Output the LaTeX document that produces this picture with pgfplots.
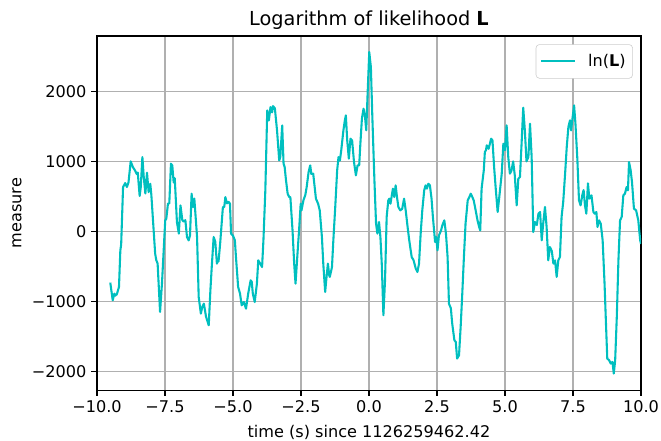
\documentclass[border=0pt]{standalone}
\usepackage{fontspec}
\setmainfont{DejaVu Sans}
\usepackage{pgfplots}
\pgfplotsset{compat=1.18}

\definecolor{lcyan}{rgb}{0,0.75,0.75}
\definecolor{gridgray}{HTML}{B0B0B0}
\definecolor{legframe}{HTML}{CCCCCC}

\begin{document}
\begin{tikzpicture}
\begin{axis}[
  scale only axis,
  width=391.7pt, height=254.9pt,
  xmin=-10, xmax=10,
  ymin=-2270, ymax=2790,
  xtick={-10,-7.5,-5,-2.5,0,2.5,5,7.5,10},
  xticklabels={−10.0,−7.5,−5.0,−2.5,0.0,2.5,5.0,7.5,10.0},
  ytick={-2000,-1000,0,1000,2000},
  yticklabels={−2000,−1000,0,1000,2000},
  tick pos=left,
  tick align=outside,
  major tick length=4pt,
  tick style={black, line width=0.9pt},
  axis line style={line width=0.9pt},
  grid=major,
  major grid style={gridgray, line width=0.9pt},
  ticklabel style={font=\fontsize{11.6}{13.9}\selectfont},
  label style={font=\fontsize{11.6}{13.9}\selectfont},
  title={Logarithm of likelihood \textbf{L}},
  title style={font=\fontsize{13.9}{16.7}\selectfont, at={(axis description cs:0.5,1.0216)}, anchor=center},
  xlabel={time (s) since 1126259462.42},
  xlabel style={at={(axis description cs:0.5,-0.1186)}, anchor=center},
  ylabel={measure},
  ylabel style={at={(axis description cs:-0.147,0.5)}, anchor=center},
  legend style={at={(axis description cs:0.985,0.977)}, anchor=north east,
    draw=legframe, rounded corners=2.5pt, font=\fontsize{11.6}{13.9}\selectfont,
    inner xsep=3pt, inner ysep=5pt},
  legend cell align=left,
  legend image code/.code={\draw[#1] (0pt,0pt) -- (24.5pt,0pt); \path (31pt,0pt);},
]
\addplot[lcyan, line width=1.5pt, line join=round] coordinates {
(-9.51,-733) (-9.42,-986) (-9.36,-890) (-9.33,-920) (-9.27,-900) (-9.19,-795)
(-9.14,-271) (-9.11,-190) (-9.04,633) (-8.96,690) (-8.90,633) (-8.84,700)
(-8.76,1000) (-8.68,919) (-8.60,870) (-8.54,820) (-8.50,840) (-8.43,505)
(-8.39,630) (-8.33,1061) (-8.28,780) (-8.22,540) (-8.16,838) (-8.10,560)
(-8.04,680) (-8.00,520) (-7.86,-319) (-7.82,-410) (-7.77,-460) (-7.68,-1152)
(-7.61,-748) (-7.49,157) (-7.45,180) (-7.39,395) (-7.34,400) (-7.28,967)
(-7.23,940) (-7.18,700) (-7.14,760) (-7.06,133) (-6.99,-33) (-6.93,371)
(-6.86,157) (-6.81,140) (-6.75,160) (-6.69,-81) (-6.63,-130) (-6.58,-60)
(-6.52,538) (-6.47,348) (-6.42,467) (-6.32,-80) (-6.26,-938) (-6.18,-1176)
(-6.13,-1081) (-6.07,-1033) (-5.99,-1220) (-5.89,-1343) (-5.83,-843) (-5.78,-510)
(-5.71,-81) (-5.65,-150) (-5.59,-462) (-5.55,-410) (-5.53,-430) (-5.47,-170)
(-5.37,348) (-5.32,348) (-5.28,490) (-5.22,400) (-5.16,420) (-5.11,395)
(-5.07,-33) (-5.00,-60) (-4.93,-128) (-4.89,-367) (-4.81,-795) (-4.74,-890)
(-4.68,-1057) (-4.60,-1010) (-4.52,-1105) (-4.44,-890) (-4.35,-700) (-4.31,-720)
(-4.27,-890) (-4.20,-1010) (-4.12,-748) (-4.07,-414) (-4.00,-460) (-3.93,-510)
(-3.88,-128) (-3.81,586) (-3.74,1729) (-3.68,1586) (-3.62,1776) (-3.56,1700)
(-3.53,1790) (-3.46,1760) (-3.38,1443) (-3.30,1014) (-3.26,1062) (-3.19,1514)
(-3.14,967) (-3.10,920) (-3.05,729) (-2.99,538) (-2.93,490) (-2.89,490)
(-2.81,14) (-2.75,-462) (-2.70,-748) (-2.62,-271) (-2.57,14) (-2.51,395)
(-2.48,300) (-2.41,443) (-2.34,520) (-2.29,633) (-2.22,848) (-2.16,943)
(-2.12,820) (-2.05,824) (-1.95,467) (-1.87,395) (-1.81,300) (-1.73,-81)
(-1.68,-462) (-1.61,-867) (-1.56,-652) (-1.51,-462) (-1.46,-630) (-1.44,-652)
(-1.36,-510) (-1.31,-128) (-1.24,348) (-1.17,871) (-1.12,1061) (-1.07,1010)
(-1.02,1157) (-0.94,1443) (-0.89,1580) (-0.85,1657) (-0.80,1300) (-0.74,1038)
(-0.68,1324) (-0.62,1300) (-0.55,990) (-0.48,800) (-0.42,943) (-0.36,943)
(-0.32,1229) (-0.26,1610) (-0.20,1752) (-0.15,1657) (-0.10,1443) (-0.05,1967)
(0.01,2562) (0.07,2348) (0.12,1681) (0.20,729) (0.26,110) (0.31,-33)
(0.37,133) (0.42,-80) (0.47,-462) (0.53,-1200) (0.59,-700) (0.65,205)
(0.71,443) (0.75,467) (0.79,395) (0.88,610) (0.93,490) (0.98,657)
(1.03,490) (1.08,348) (1.15,300) (1.22,320) (1.29,467) (1.35,300)
(1.42,62) (1.48,-128) (1.57,-367) (1.64,-414) (1.72,-533) (1.78,-581)
(1.84,-462) (1.90,-33) (1.96,300) (2.03,586) (2.08,657) (2.13,610)
(2.18,680) (2.24,657) (2.30,467) (2.35,205) (2.43,-152) (2.47,-80)
(2.52,-271) (2.57,-60) (2.65,14) (2.70,90) (2.77,157) (2.83,-33)
(2.89,-367) (2.94,-1033) (3.01,-1100) (3.06,-1319) (3.14,-1557) (3.19,-1580)
(3.24,-1819) (3.31,-1771) (3.37,-1367) (3.43,-890) (3.49,-367) (3.55,110)
(3.63,443) (3.69,490) (3.74,538) (3.80,490) (3.85,443) (3.91,324)
(3.99,157) (4.05,62) (4.09,14) (4.14,610) (4.22,871) (4.26,1133)
(4.30,1160) (4.33,1229) (4.40,1180) (4.49,1324) (4.54,1300) (4.60,919)
(4.66,610) (4.73,276) (4.79,490) (4.88,824) (4.94,1252) (5.00,1160)
(5.06,1514) (5.12,1062) (5.18,824) (5.24,871) (5.30,1000) (5.36,800)
(5.43,371) (5.49,752) (5.55,776) (5.61,1252) (5.67,1767) (5.73,1443)
(5.79,1000) (5.86,1062) (5.92,1538) (5.98,1062) (6.04,-10) (6.10,133)
(6.17,90) (6.23,252) (6.29,276) (6.35,-128) (6.41,133) (6.47,348)
(6.53,62) (6.59,-414) (6.65,-224) (6.72,-280) (6.78,-462) (6.84,-414)
(6.90,-652) (6.96,-414) (7.02,-367) (7.08,205) (7.14,419) (7.21,824)
(7.27,1205) (7.33,1490) (7.39,1586) (7.43,1443) (7.48,1610) (7.54,1800)
(7.59,1538) (7.66,1033) (7.72,443) (7.78,371) (7.84,514) (7.89,590)
(7.94,371) (7.99,252) (8.05,686) (8.10,467) (8.18,514) (8.25,276)
(8.30,252) (8.36,276) (8.40,62) (8.46,157) (8.52,110) (8.59,-128)
(8.66,-748) (8.71,-1295) (8.76,-1819) (8.83,-1843) (8.89,-1890) (8.95,-1867)
(9.00,-2033) (9.05,-1843) (9.11,-1224) (9.17,-414) (9.23,157) (9.29,205)
(9.35,514) (9.41,538) (9.47,633) (9.52,586) (9.56,990) (9.62,871)
(9.67,700) (9.74,324) (9.82,300) (9.90,157) (9.97,-128) (10.00,-180)
};
\addlegendentry{ln(\textbf{L})}
\end{axis}
\pgfresetboundingbox
\path ([shift={(-69.8pt,-36pt)}]current axis.south west) rectangle ([shift={(14.4pt,26pt)}]current axis.north east);
\end{tikzpicture}
\end{document}
